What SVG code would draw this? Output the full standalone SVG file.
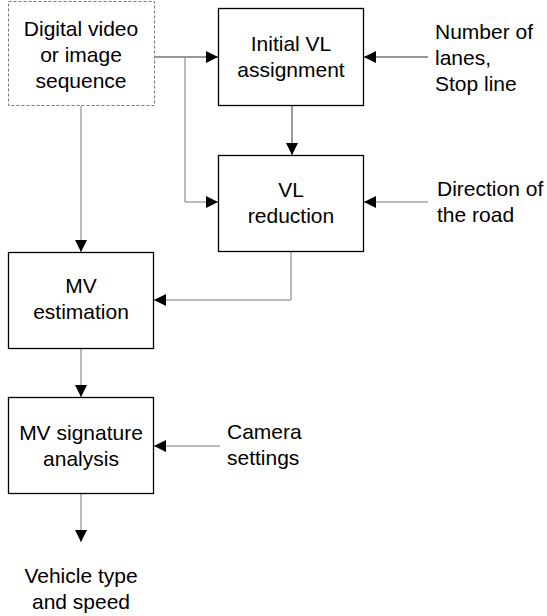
<svg xmlns="http://www.w3.org/2000/svg" width="547" height="616" viewBox="0 0 547 616">
<style>
text{font-family:"Liberation Sans",Arial,sans-serif;font-size:21px;fill:#000}
.box{fill:#fff;stroke:#000;stroke-width:1.3}
.dash{fill:#fff;stroke:#777;stroke-width:1;stroke-dasharray:3,2}
.c{fill:none;stroke:#777;stroke-width:1}
.d{fill:none;stroke:#333;stroke-width:1}
</style>
<defs>
<marker id="ah" markerUnits="userSpaceOnUse" markerWidth="12" markerHeight="12" refX="12" refY="6" orient="auto">
<path d="M0,0 L12,6 L0,12 Z" fill="#000"/>
</marker>
</defs>
<rect width="547" height="616" fill="#fff"/>
<g id="connectors">
<path class="d" d="M154,57 H218" marker-end="url(#ah)"/>
<path class="c" d="M185,57 V202 H218" marker-end="url(#ah)"/>
<path class="c" d="M81,106 V252" marker-end="url(#ah)"/>
<path class="d" d="M292,106 V155" marker-end="url(#ah)"/>
<path class="c" d="M291,252 V300 H154" marker-end="url(#ah)"/>
<path class="c" d="M81,349 V397" marker-end="url(#ah)"/>
<path class="c" d="M81,494 V542" marker-end="url(#ah)"/>
<path class="d" d="M428,57 H364" marker-end="url(#ah)"/>
<path class="c" d="M428,202 H364" marker-end="url(#ah)"/>
<path class="c" d="M220,446 H154" marker-end="url(#ah)"/>
</g>
<g id="input">
<rect class="dash" x="8.5" y="1.5" width="146" height="104"/>
<text x="81" y="36" text-anchor="middle">Digital video</text>
<text x="81" y="62" text-anchor="middle">or image</text>
<text x="81" y="88" text-anchor="middle">sequence</text>
</g>
<g id="initial">
<rect class="box" x="218.5" y="8.5" width="145" height="97"/>
<text x="291" y="51" text-anchor="middle">Initial VL</text>
<text x="291" y="77" text-anchor="middle">assignment</text>
</g>
<g id="lanes">
<text x="435" y="39">Number of</text>
<text x="435" y="65">lanes,</text>
<text x="435" y="91">Stop line</text>
</g>
<g id="reduction">
<rect class="box" x="218.5" y="155.5" width="145" height="96"/>
<text x="291" y="197" text-anchor="middle">VL</text>
<text x="291" y="223" text-anchor="middle">reduction</text>
</g>
<g id="direction">
<text x="437" y="196">Direction of</text>
<text x="437" y="222">the road</text>
</g>
<g id="mvest">
<rect class="box" x="8.5" y="252.5" width="145" height="96"/>
<text x="81" y="293" text-anchor="middle">MV</text>
<text x="81" y="319" text-anchor="middle">estimation</text>
</g>
<g id="mvsig">
<rect class="box" x="8.5" y="397.5" width="145" height="96"/>
<text x="81" y="440" text-anchor="middle">MV signature</text>
<text x="81" y="466" text-anchor="middle">analysis</text>
</g>
<g id="camera">
<text x="227" y="439">Camera</text>
<text x="227" y="465">settings</text>
</g>
<g id="output">
<text x="81" y="583" text-anchor="middle">Vehicle type</text>
<text x="81" y="609" text-anchor="middle">and speed</text>
</g>
</svg>
